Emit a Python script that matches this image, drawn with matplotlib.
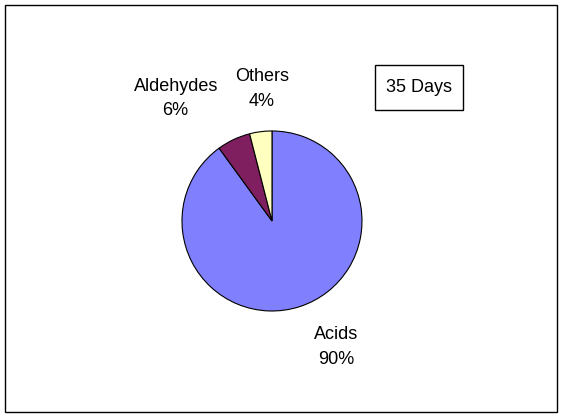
"""Pie chart of compound classes after 35 days."""

import matplotlib.pyplot as plt
from matplotlib.patches import Rectangle

categories = ["Acids", "Aldehydes", "Others"]
shares = [90, 6, 4]
colors = ["#8080FF", "#7F1F5F", "#FFFFC0"]
# label anchor points in pie units (radius = 1)
label_pos = [(0.71, -1.40), (-1.07, 1.36), (-0.11, 1.47)]
legend_text = "35 Days"


def create_plot() -> None:
    plt.rcParams["font.family"] = ["Liberation Sans", "DejaVu Sans"]
    fig = plt.figure(figsize=(5.65, 4.17), dpi=100)

    # outer chart border
    fig.patches.append(Rectangle((5 / 565, 5 / 417), 552 / 565, 407 / 417,
                                 transform=fig.transFigure, fill=False,
                                 edgecolor="black", linewidth=1))
    # legend-like box
    fig.patches.append(Rectangle((375 / 565, 1 - 110 / 417), 88 / 565, 45 / 417,
                                 transform=fig.transFigure, fill=False,
                                 edgecolor="black", linewidth=1))

    ax = fig.add_axes([0.3221, 0.2542, 0.3186, 0.4317])
    ax.pie(shares, colors=colors, startangle=90, counterclock=False,
           wedgeprops={"edgecolor": "black", "linewidth": 0.8})
    ax.set_xlim(-1, 1)
    ax.set_ylim(-1, 1)
    ax.set_aspect("equal")
    ax.axis("off")

    for name, pct, (x, y) in zip(categories, shares, label_pos):
        ax.text(x, y, f"{name}\n{pct}%", ha="center", va="center",
                fontsize=13, linespacing=1.6, clip_on=False)

    fig.text(419 / 565, 1 - 88 / 417, legend_text, ha="center", va="center",
             fontsize=13)

    fig.savefig("out.png", dpi=100)


if __name__ == "__main__":
    create_plot()
